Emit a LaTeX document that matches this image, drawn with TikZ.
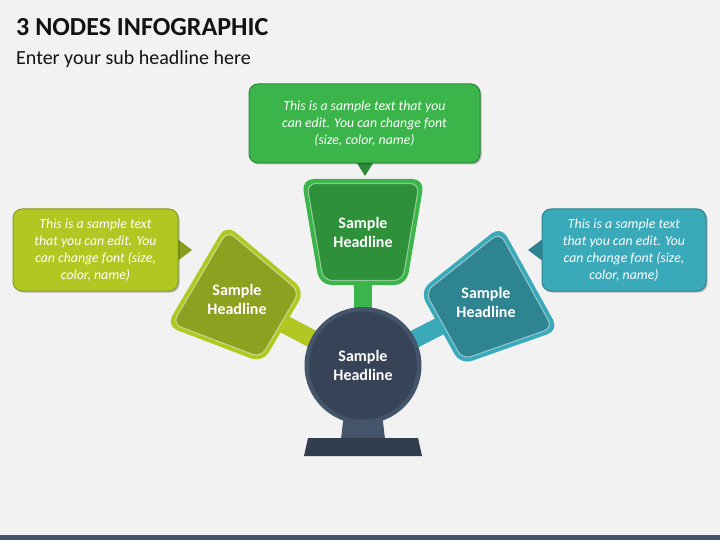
\documentclass[tikz,border=0pt]{standalone}
\usepackage{fontspec}
\setmainfont{Carlito}
\usetikzlibrary{shadows}
\definecolor{bg}{HTML}{F2F2F2}
\definecolor{gOut}{HTML}{3BB54A}
\definecolor{gIn}{HTML}{2E913A}
\definecolor{gDark}{HTML}{2E8A38}
\definecolor{lOut}{HTML}{B1C823}
\definecolor{lIn}{HTML}{8DA01F}
\definecolor{lDark}{HTML}{8A9C1E}
\definecolor{tOut}{HTML}{3AA9B9}
\definecolor{tIn}{HTML}{2E8490}
\definecolor{tDark}{HTML}{2D8390}
\definecolor{slateA}{HTML}{44546A}
\definecolor{slateB}{HTML}{374357}
\definecolor{slateC}{HTML}{323D4F}
\newcommand\drawtrap[5]{%
  \begin{scope}[shift={#1},rotate=#2,scale=#5]
    \fill[#3,rounded corners=12pt] (-61.5,-53) -- (61.5,-53) -- (43.5,53) -- (-43.5,53) -- cycle;
    \filldraw[fill=#4,draw=white,draw opacity=0.45,line width=1.1pt,rounded corners=9pt]
      (-56.2,-48.5) -- (56.2,-48.5) -- (39.7,48.5) -- (-39.7,48.5) -- cycle;
  \end{scope}}
\tikzset{
  stemline/.style={line width=18pt,draw=#1},
  callout/.style={rectangle,rounded corners=9pt,fill=#1Out,draw=#1Dark,line width=1pt,
    text=white,align=center,font=\fontsize{13.8}{17}\selectfont\itshape,inner sep=0pt,
    drop shadow={shadow xshift=1.5pt,shadow yshift=-1.5pt,opacity=0.25,fill=black}},
  headline/.style={text=white,align=center,font=\fontsize{16}{19}\selectfont\bfseries},
}
\begin{document}
\begin{tikzpicture}[x=1pt,y=-1pt]
\fill[bg] (0,0) rectangle (720,540);
\useasboundingbox (0,0) rectangle (720,540);
\fill[slateA] (0,535) rectangle (720,540);
% titles
\node[anchor=base west,inner sep=0pt,font=\fontsize{26}{30}\selectfont\bfseries,text=black!93] (title) at (16,36) {3 NODES INFOGRAPHIC};
\node[anchor=base west,inner sep=0pt,font=\fontsize{20}{24}\selectfont,text=black!93] (sub) at (16,65) {Enter your sub headline here};
% centres
\coordinate (cc) at (363,365.5);
\coordinate (gc) at (363,232);
\coordinate (lcen) at (240,301);
\coordinate (rcen) at (485,303);
% stems
\draw[stemline=gOut] (cc) -- (gc);
\draw[stemline=lOut] (cc) -- (lcen);
\draw[stemline=tOut] (cc) -- (rcen);
% pedestal
\fill[slateA] (345,405) -- (381,405) -- (385,439) -- (341,439) -- cycle;
\fill[slateC] (308,438) -- (418,438) -- (422,456) -- (304,456) -- cycle;
% central circle
\fill[slateA] (cc) circle (58.5);
\fill[slateB] (cc) circle (54);
% trapezoids
\drawtrap{(363,232)}{0}{gOut}{gIn}{1}
\drawtrap{(240,301)}{59.5}{lOut}{lIn}{0.96}
\drawtrap{(485,303)}{-61}{tOut}{tIn}{0.97}
% headlines
\node[headline] (hc) at (cc) {Sample\\Headline};
\node[headline] (hg) at (gc) {Sample\\Headline};
\node[headline] (hl) at (237,299) {Sample\\Headline};
\node[headline] (hr) at (486,302) {Sample\\Headline};
% callouts
\fill[gDark] (355,160) -- (375,160) -- (365,176) -- cycle;
\fill[lDark] (176,238) -- (176,262) -- (192,250) -- cycle;
\fill[tDark] (544,238) -- (544,262) -- (528,250) -- cycle;
\node[callout=g,minimum width=231pt,minimum height=79pt] (ct) at (364.5,123.5)
  {This is a sample text that you\\can edit. You can change font\\(size, color, name)};
\node[callout=l,minimum width=165pt,minimum height=82pt] (cl) at (95.5,250)
  {This is a sample text\\that you can edit. You\\can change font (size,\\color, name)};
\node[callout=t,minimum width=164pt,minimum height=82pt] (cr) at (624,250)
  {This is a sample text\\that you can edit. You\\can change font (size,\\color, name)};
\end{tikzpicture}
\end{document}
